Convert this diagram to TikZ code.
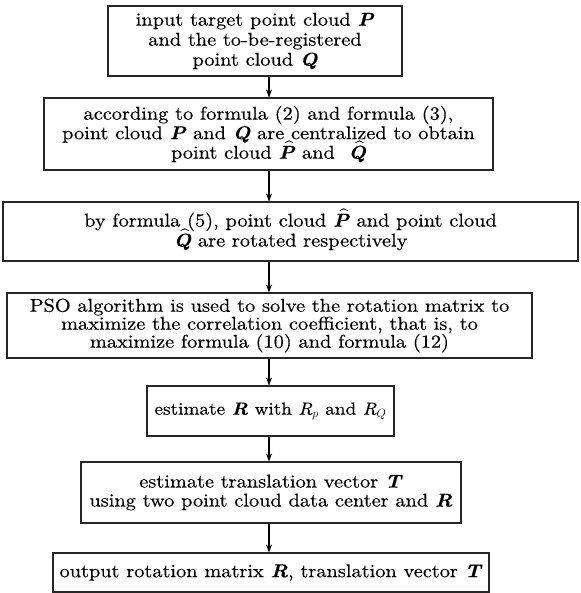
\documentclass[tikz,border=0pt]{standalone}
\usepackage{fontspec}
\setmainfont{lmroman10-regular}[Extension=.otf,
  BoldFont=lmroman10-bold, ItalicFont=lmroman10-italic,
  BoldItalicFont=lmroman10-bolditalic, FakeStretch=1.1, FakeBold=0.35]
\usetikzlibrary{arrows.meta}
\newcommand{\mybi}[1]{\textbf{\textit{#1}}}
\newcommand{\myhat}[1]{\leavevmode\ooalign{\mybi{#1}\cr\hidewidth\kern0.25em\raisebox{8.5pt}{\fontsize{13}{13}\selectfont\textbf{\^{}}}\hidewidth\cr}}
\begin{document}
\begin{tikzpicture}[x=1pt,y=-1pt,
  box/.style={draw=black!85, line width=1.1pt, inner sep=0pt, align=center,
    font=\fontsize{18.5}{20}\selectfont},
  arr/.style={draw=black, line width=1.1pt, -{Stealth[length=8pt,width=6pt,inset=2.5pt]}}]
\useasboundingbox (0,0) rectangle (580,593);
\fill[white] (0,0) rectangle (580,593);
\coordinate (ax) at (269,0);
\node[box, minimum width=294pt, minimum height=70pt] (b1) at (255,41)
  {input target point cloud \mybi{P}\\ and the to-be-registered\\ point cloud \mybi{Q}};
\node[box, minimum width=449pt, minimum height=72pt, font=\fontsize{18.5}{19.5}\selectfont] (b2) at (268.5,134)
  {according to formula (2) and formula (3),\\ point cloud \mybi{P} and \mybi{Q} are centralized to obtain\\ point cloud \myhat{P} and\ \ \myhat{Q}};
\node[box, minimum width=575pt, minimum height=59pt] (b3) at (290.5,231.5)
  {by formula (5), point cloud \myhat{P} and point cloud\\ \myhat{Q} are rotated respectively};
\node[box, minimum width=525pt, minimum height=65pt, font=\fontsize{18.5}{18}\selectfont] (b4) at (269.5,325.5)
  {PSO algorithm is used to solve the rotation matrix to\\ maximize the correlation coefficient, that is, to\\ maximize formula (10) and formula (12)};
\node[box, minimum width=247pt, minimum height=50pt, font=\fontsize{17.5}{19}\selectfont] (b5) at (270.5,411)
  {estimate \mybi{R} with \textit{R}$_{p}$ and \textit{R}$_{Q}$};
\node[box, minimum width=380pt, minimum height=61pt, font=\fontsize{18.5}{19}\selectfont] (b6) at (271,492.5)
  {estimate translation vector \mybi{T}\\ using two point cloud data center and \mybi{R}};
\node[box, minimum width=436pt, minimum height=39pt] (b7) at (271,572.5)
  {output rotation matrix \mybi{R}, translation vector \mybi{T}};
\draw[arr] (b1.south -| ax) -- (b2.north -| ax);
\draw[arr] (b2.south -| ax) -- (b3.north -| ax);
\draw[arr] (b3.south -| ax) -- (b4.north -| ax);
\draw[arr] (b4.south -| ax) -- (b5.north -| ax);
\draw[arr] (b5.south -| ax) -- (b6.north -| ax);
\draw[arr] (b6.south -| ax) -- (b7.north -| ax);
\end{tikzpicture}
\end{document}
